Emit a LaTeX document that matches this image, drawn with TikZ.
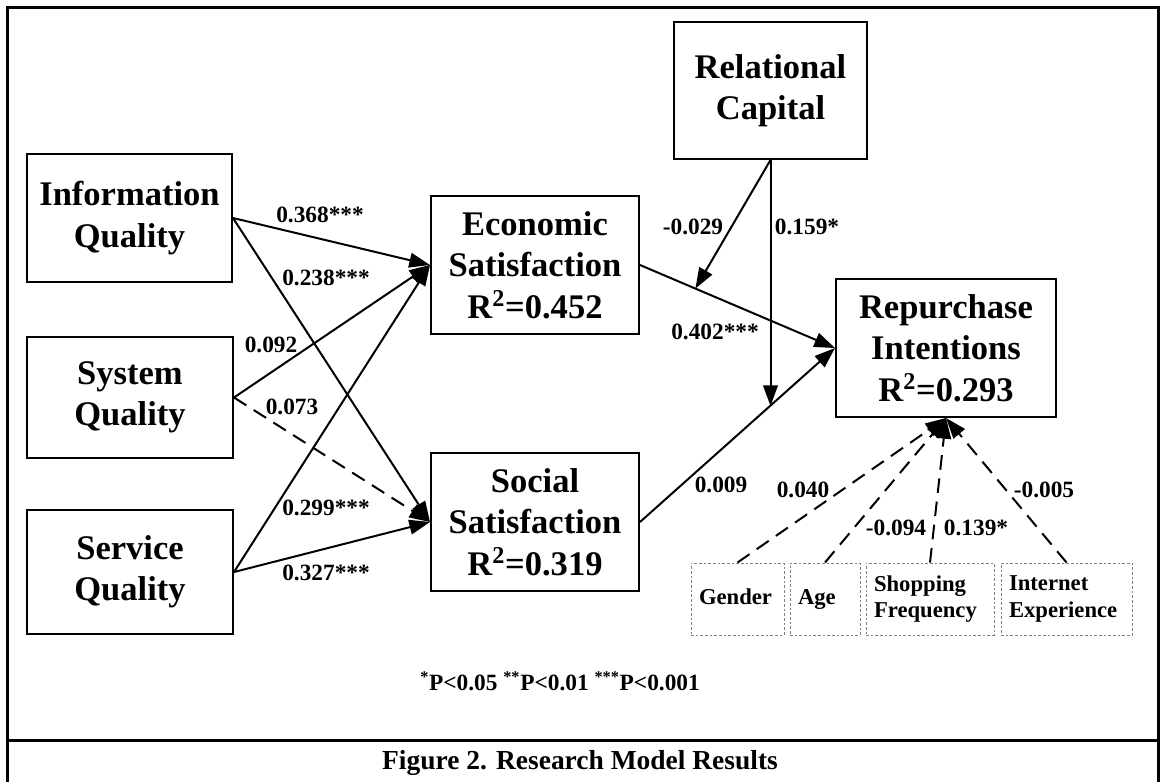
\documentclass[tikz,border=0pt]{standalone}
\usepackage{fontspec}
\setmainfont{Liberation Serif}
\usetikzlibrary{arrows.meta,calc}
\begin{document}
\begin{tikzpicture}[x=0.75pt,y=-0.75pt,
  box/.style={draw,line width=1.5pt,align=center,inner sep=0pt,font=\fontsize{25.9}{31}\selectfont\bfseries},
  ctrl/.style={draw=gray,line width=0.75pt,dash pattern=on 2pt off 1.5pt,align=left,inner xsep=6pt,inner ysep=0pt,minimum height=54pt,font=\fontsize{17}{20}\selectfont\bfseries},
  oneline/.style={text height=12pt,text depth=4pt},
  arr/.style={line width=1.5pt,-{Triangle[length=15.5pt,width=11pt]}},
  darr/.style={arr,dash pattern=on 11pt off 6.5pt},
  lbl/.style={inner sep=0pt,font=\fontsize{17.5}{20}\selectfont\bfseries},
  frameline/.style={line width=2.25pt}
]
\useasboundingbox (0,0) rectangle (1160,782);
% frame
\draw[frameline] (7,782) -- (7,7) -- (1158,7) -- (1158,782);
\draw[frameline] (7,740) -- (1158,740);

% main boxes
\node[box,minimum width=153.75pt,minimum height=96pt] (info) at (129.5,218) {Information\\Quality};
\node[box,minimum width=154.5pt,minimum height=90.75pt] (sys) at (130,397.5) {System\\Quality};
\node[box,minimum width=154.5pt,minimum height=93pt] (serv) at (130,572) {Service\\Quality};
\node[box,minimum width=156pt,minimum height=103.5pt] (econ) at (535,265) {Economic\\Satisfaction\\R\textsuperscript{2}=0.452};
\node[box,minimum width=156pt,minimum height=103.5pt] (social) at (535,522) {Social\\Satisfaction\\R\textsuperscript{2}=0.319};
\node[box,minimum width=144.75pt,minimum height=102.75pt] (rel) at (770.5,90.5) {Relational\\Capital};
\node[box,minimum width=165pt,minimum height=103.5pt] (rep) at (946,348) {Repurchase\\Intentions\\R\textsuperscript{2}=0.293};

% control boxes
\node[ctrl,oneline,text width=57.75pt] (gender) at (737.5,599) {Gender};
\node[ctrl,oneline,text width=40.5pt] (age) at (825,599) {Age};
\node[ctrl,text width=84pt] (shop) at (930,599) {Shopping\\Frequency};
\node[ctrl,text width=86.25pt] (inet) at (1066.5,599) {Internet\\Experience};

% structural paths
\draw[arr] (info.east) -- (econ.west);
\draw[arr] (info.east) -- (social.west);
\draw[arr] (sys.east) -- (econ.west);
\draw[darr] (sys.east) -- (social.west);
\draw[arr] (serv.east) -- (econ.west);
\draw[arr] (serv.east) -- (social.west);
\draw[arr] (econ.east) -- (rep.west);
\draw[arr] (social.east) -- (rep.west);

% moderation
\coordinate (m1) at ($(econ.east)!0.284!(rep.west)$);
\coordinate (m2) at ($(social.east)!0.667!(rep.west)$);
\draw[arr] (rel.south) -- (m1);
\draw[arr] (rel.south) -- (rel.south |- m2);

% controls
\draw[darr] (gender.north) -- (rep.south);
\draw[darr] (age.north) -- (rep.south);
\draw[darr] (shop.north) -- (rep.south);
\draw[darr] (inet.north) -- (rep.south);

% labels
\node[lbl] (l1) at (320,215) {0.368***};
\node[lbl] (l2) at (326,278) {0.238***};
\node[lbl] (l3) at (271,345) {0.092};
\node[lbl] (l4) at (292,407) {0.073};
\node[lbl] (l5) at (326,508) {0.299***};
\node[lbl] (l6) at (326,573) {0.327***};
\node[lbl] (l7) at (693,227) {-0.029};
\node[lbl] (l8) at (807,227) {0.159*};
\node[lbl] (l9) at (715,332) {0.402***};
\node[lbl] (l10) at (721,485) {0.009};
\node[lbl] (l11) at (803,490) {0.040};
\node[lbl] (l12) at (896,528) {-0.094};
\node[lbl] (l13) at (976,528) {0.139*};
\node[lbl] (l14) at (1044,490) {-0.005};

% footnote and caption
\node[lbl] (note) at (560,681) {\textsuperscript{*}P<0.05 \textsuperscript{**}P<0.01 \textsuperscript{***}P<0.001};
\node[inner sep=0pt,font=\fontsize{20.6}{24}\selectfont\bfseries] (cap) at (580,763) {Figure 2. Research Model Results};
\end{tikzpicture}
\end{document}
